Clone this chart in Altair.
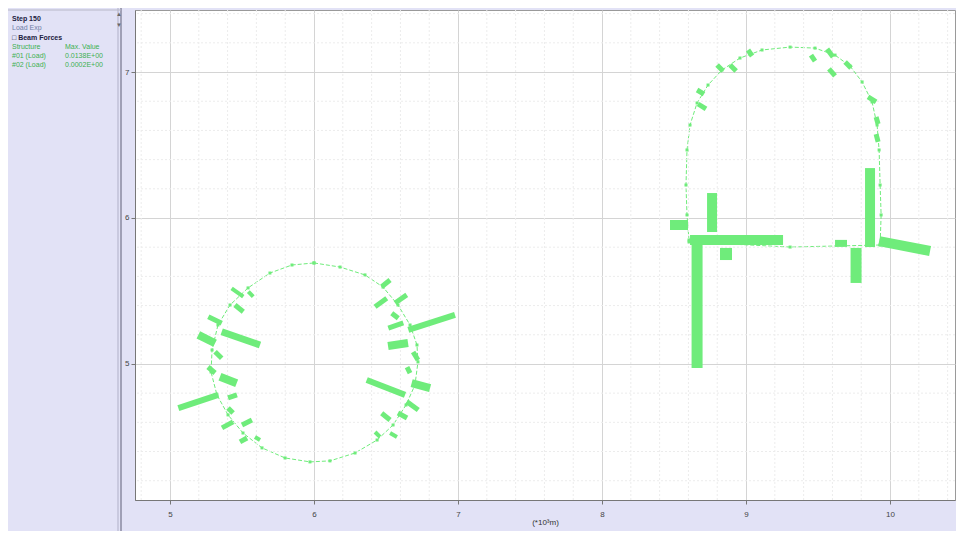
import altair as alt
import pandas as pd

# ---------------- data (data units) ----------------
ring_x = [6.000, 6.181, 6.354, 6.479, 6.583, 6.667, 6.715, 6.722, 6.701, 6.639, 6.549, 6.438, 6.285, 6.111,
          5.972, 5.799, 5.639, 5.507, 5.403, 5.326, 5.285, 5.292, 5.333, 5.417, 5.542, 5.694, 5.847, 6.000]
ring_y = [5.692, 5.664, 5.610, 5.527, 5.404, 5.267, 5.130, 5.014, 4.856, 4.719, 4.582, 4.479, 4.390, 4.336,
          4.329, 4.356, 4.425, 4.527, 4.651, 4.788, 4.945, 5.096, 5.267, 5.404, 5.521, 5.623, 5.678, 5.692]

arch_x = [8.604, 8.590, 8.583, 8.590, 8.611, 8.660, 8.736, 8.833, 8.958, 9.111, 9.306, 9.479, 9.618, 9.722,
          9.806, 9.875, 9.910, 9.924, 9.931, 9.938, 9.931, 9.306, 8.604]
arch_y = [5.849, 6.021, 6.226, 6.466, 6.637, 6.788, 6.911, 7.014, 7.096, 7.151, 7.171, 7.164, 7.116, 7.041,
          6.932, 6.795, 6.637, 6.466, 6.226, 6.021, 5.815, 5.801, 5.836]

bar_x1 = [5.428, 5.544, 5.451, 5.266, 5.359, 5.197, 5.313, 5.264, 5.347, 5.058, 5.403, 5.403, 5.361, 5.500, 5.486, 5.590,
          6.470, 6.424, 6.563, 6.540, 6.516, 6.655, 6.514, 6.688, 6.646, 6.366, 6.678, 6.644, 6.470, 6.583, 6.424, 6.528,
          8.472, 8.764, 8.611, 8.660, 8.861, 9.861, 9.618, 9.764, 9.924,
          8.660, 8.667, 8.799, 8.889, 9.014, 9.451, 9.563, 9.576, 9.688, 9.847, 9.903, 9.903]
bar_y1 = [5.518, 5.495, 5.404, 5.324, 5.221, 5.199, 5.084, 4.979, 4.913, 4.697, 4.767, 4.699, 4.562, 4.582, 4.466, 4.500,
          5.529, 5.392, 5.418, 5.347, 5.245, 5.233, 5.123, 5.082, 4.979, 4.890, 4.868, 4.742, 4.662, 4.664, 4.534, 4.527,
          5.952, 6.171, 5.849, 5.815, 5.795, 6.342, 5.826, 5.795, 5.842,
          6.877, 6.781, 7.048, 7.048, 7.151, 7.116, 7.158, 7.021, 7.068, 6.829, 6.692, 6.575]
bar_x2 = [5.509, 5.578, 5.509, 5.359, 5.625, 5.313, 5.359, 5.313, 5.463, 5.335, 5.465, 5.438, 5.438, 5.569, 5.535, 5.625,
          6.528, 6.505, 6.644, 6.585, 6.620, 6.979, 6.653, 6.722, 6.667, 6.632, 6.806, 6.724, 6.528, 6.646, 6.458, 6.576,
          8.597, 8.764, 9.257, 8.660, 8.861, 9.861, 9.701, 9.764, 10.278,
          8.708, 8.722, 8.840, 8.931, 9.042, 9.479, 9.604, 9.618, 9.729, 9.903, 9.917, 9.917]
bar_y2 = [5.461, 5.461, 5.358, 5.279, 5.130, 5.142, 5.039, 4.938, 4.868, 4.788, 4.788, 4.664, 4.603, 4.616, 4.493, 4.479,
          5.575, 5.450, 5.473, 5.313, 5.281, 5.336, 5.144, 5.027, 4.938, 4.788, 4.834, 4.685, 4.616, 4.630, 4.500, 4.500,
          5.952, 5.904, 5.849, 4.973, 5.712, 5.801, 5.826, 5.555, 5.774,
          6.849, 6.747, 7.007, 7.007, 7.110, 7.075, 7.103, 6.973, 7.027, 6.795, 6.644, 6.521]
bar_w = [4, 4, 5, 5, 7, 8, 5, 5, 8, 6, 5, 5, 5, 5, 5, 4,
         5, 5, 5, 5, 5, 6, 8, 5, 5, 6, 8, 5, 5, 5, 4, 4,
         10, 10, 10, 11, 12, 10, 7, 11, 10,
         5, 5, 5, 5, 5, 5, 5, 5, 5, 5, 5, 5]

x_ticks = [5, 6, 7, 8, 9, 10]
y_ticks = [5, 6, 7]
x_domain = [4.757, 10.451]
y_domain = [4.068, 7.425]

panel_lines = ["Step 150", "Load Exp", "\u25a1 Beam Forces", "Structure", "#01 (Load)", "#02 (Load)"]
panel_values = ["Max. Value", "0.0138E+00", "0.0002E+00"]
x_title = "(*10\u00b3m)"

# ---------------- tables ----------------
outline = pd.DataFrame({
    "x": ring_x + arch_x,
    "y": ring_y + arch_y,
    "shape": ["ring"] * len(ring_x) + ["arch"] * len(arch_x),
    "order": list(range(len(ring_x))) + list(range(len(arch_x))),
})
bars = pd.DataFrame({"x1": bar_x1, "y1": bar_y1, "x2": bar_x2, "y2": bar_y2, "w": bar_w})


def minor(lo, n):
    vals = []
    for i in range(n):
        v = round(lo + 0.2 * i, 1)
        if abs(v - round(v)) > 0.05:
            vals.append(v)
    return vals


minor_x = pd.DataFrame({"x": minor(4.8, 29)})
minor_y = pd.DataFrame({"y": minor(4.2, 17)})

xs = alt.Scale(domain=x_domain, nice=False, zero=False)
ys = alt.Scale(domain=y_domain, nice=False, zero=False)
GREEN = "#6fec7b"
FONT = "Liberation Sans"

xa = alt.Axis(values=x_ticks, format="d", title=x_title, grid=True, gridColor="#d4d4d4",
              labelFontSize=8, labelColor="#444", labelFont=FONT, labelPadding=6,
              tickSize=4, tickColor="#777", domainColor="#777",
              titleFontSize=8, titleFontWeight="normal", titleColor="#333", titleFont=FONT, titlePadding=0)
ya = alt.Axis(values=y_ticks, format="d", title=None, grid=True, gridColor="#d4d4d4",
              labelFontSize=8, labelColor="#444", labelFont=FONT, labelPadding=2,
              tickSize=4, tickColor="#777", domainColor="#777")

X = lambda f: alt.X(f, type="quantitative", scale=xs, axis=xa, title=x_title)
Y = lambda f: alt.Y(f, type="quantitative", scale=ys, axis=ya, title=None)

lines = alt.Chart(outline).mark_line(color=GREEN, strokeWidth=1, strokeDash=[4, 2]).encode(
    x=X("x"), y=Y("y"), detail="shape:N", order="order:Q")

grid_v = alt.Chart(minor_x).mark_rule(color="#ececec", strokeWidth=1, strokeDash=[2, 2]).encode(x=X("x"))
grid_h = alt.Chart(minor_y).mark_rule(color="#ececec", strokeWidth=1, strokeDash=[2, 2]).encode(y=Y("y"))

dots = alt.Chart(outline).mark_square(color=GREEN, size=9, opacity=1).encode(x=X("x"), y=Y("y"))

force = alt.Chart(bars).mark_rule(color=GREEN, strokeCap="butt").encode(
    x=X("x1"), y=Y("y1"), x2="x2:Q", y2="y2:Q",
    strokeWidth=alt.StrokeWidth("w:Q", scale=None),
)

one = pd.DataFrame({"a": [0]})


def txt(s, xp, yp, color, bold=False, size=7):
    return alt.Chart(one).mark_text(
        text=s, align="left", baseline="middle", fontSize=size, font=FONT,
        fontWeight="bold" if bold else "normal", color=color).encode(
        x=alt.value(xp), y=alt.value(yp))


panel_colors = ["#202040", "#7080a8", "#202040", "#3cb050", "#3cb050", "#3cb050"]
panel_bold = [True, False, True, False, False, False]
panel_y = [9, 18, 28, 37, 46, 55]
panel = [txt(s, -123, yy, c, b) for s, yy, c, b in zip(panel_lines, panel_y, panel_colors, panel_bold)]
panel += [txt(s, -70, yy, "#3cb050") for s, yy in zip(panel_values, panel_y[3:])]
panel += [txt("\u25b2", -19, 4, "#666", size=6), txt("\u25bc", -19, 15, "#666", size=6)]

sep = alt.Chart(one).mark_rule(color="#8a8aa0", strokeWidth=1.5).encode(
    x=alt.value(-14), y=alt.value(-10), y2=alt.value(530))
sep2 = alt.Chart(one).mark_rule(color="#b0b0c8", strokeWidth=1).encode(
    x=alt.value(-17), y=alt.value(-10), y2=alt.value(530))
top_line = alt.Chart(one).mark_rule(color="#b8b8c8", strokeWidth=1).encode(
    x=alt.value(-135), x2=alt.value(-14), y=alt.value(0))

chart = alt.layer(lines, grid_v, grid_h, dots, force, sep, sep2, top_line, *panel).properties(
    width=820, height=490,
    padding={"left": 127, "top": 2, "right": 1, "bottom": 31},
    autosize=alt.AutoSizeParams(type="none"),
    background="#e2e2f6",
).configure_view(fill="white", stroke="#9a9a9a")

chart.save("out.html", embed_options={"renderer": "svg", "actions": False})
